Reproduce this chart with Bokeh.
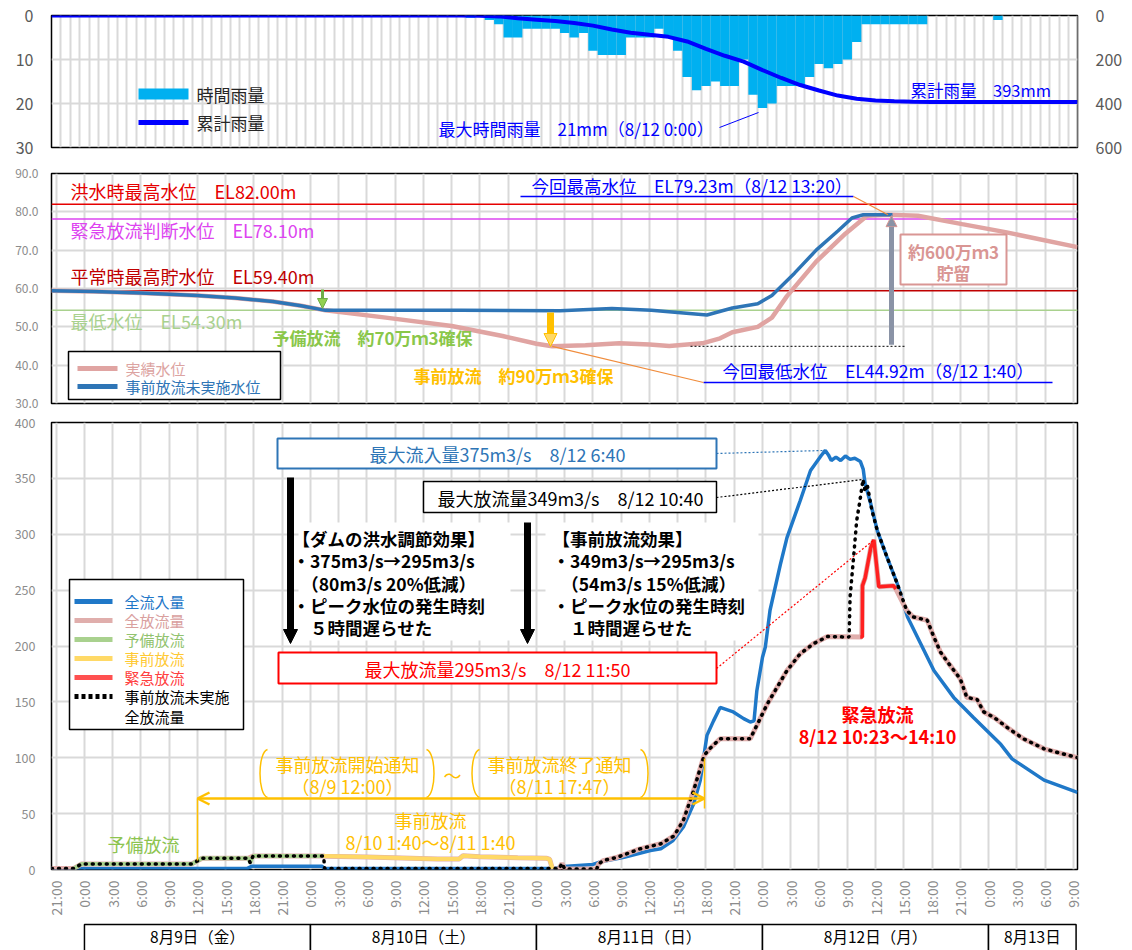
import math
from bokeh.plotting import figure
from bokeh.layouts import column
from bokeh.models import (Range1d, LinearAxis, FixedTicker, Label, Arrow, NormalHead,
                          OpenHead, NumeralTickFormatter, CustomJSTickFormatter)
from bokeh.core.properties import value
from bokeh.embed import file_html
from bokeh.resources import INLINE

FONT = "Noto Sans CJK JP"

# ---------------- data (x = hours since 2019-08-09 00:00) ----------------
# hourly rainfall [mm]
rain_hour = [41, 43, 44, 45, 46, 47, 48, 49, 50,
             51, 52, 53, 54, 55, 56, 57, 58, 59, 60,
             61, 62, 63, 64, 65, 66, 67, 68, 69, 70, 71, 72, 73, 74, 75, 76, 77, 78, 79,
             80, 81, 82, 83, 84, 85, 86, 87, 88, 89,
             97]
rain_mm = [0.5, 1, 2, 5, 5, 3, 3, 3, 3,
           4, 5, 4, 8, 9, 9, 9, 5, 5, 5,
           3, 5, 8, 14, 17, 16, 15, 16, 16, 10, 18, 21, 20, 16, 16, 16, 14, 11, 12,
           11, 10, 6, 2, 2, 2, 2, 2, 2, 2,
           1]
# cumulative rainfall [mm]
cum_hour = [-3.5, 40, 42, 44, 46, 48, 50, 52, 54, 56, 58, 60, 62, 64, 66, 68, 70, 72,
            74, 76, 78, 80, 82, 84, 86, 88, 90, 95, 105.45]
cum_mm = [0, 0, 1, 4, 13, 19, 25, 34, 46, 64, 78, 88, 97, 118, 152, 183, 210, 248,
          284, 316, 341, 364, 378, 386, 390, 392, 393, 393, 393]

# reservoir level [EL m]
level_hour = [-3.5, 1, 6, 12, 16, 20, 23, 25.6, 32, 39, 44.4, 48, 49.67, 53.2, 56.8, 60,
              62.1, 65.6, 67.5, 68.8, 71.5, 73.0, 74.6, 77.7, 80.8, 83.1, 85.33, 88.5,
              93.2, 97.8, 105.45]
level_actual = [59.4, 59.2, 58.8, 58.2, 57.5, 56.6, 55.5, 54.3, 52.4, 50.2, 47.6, 45.6,
                44.92, 45.2, 45.7, 45.4, 45.0, 45.7, 47.0, 48.6, 50.0, 52.4, 58.0, 67.0,
                74.3, 79.0, 79.23, 79.0, 76.8, 74.7, 70.8]
nopre_level_hour = [-3.5, 1, 6, 12, 16, 20, 23, 25.6, 40, 50.5, 56, 60.2, 66.1, 68.8,
                    71.5, 73.0, 75.4, 77.7, 80.0, 81.5, 82.7, 85.8]
nopre_level = [59.4, 59.2, 58.8, 58.2, 57.5, 56.6, 55.5, 54.3, 54.3, 54.2, 54.8, 54.3,
               53.1, 54.9, 56.0, 58.2, 64.0, 70.0, 75.0, 78.4, 79.23, 79.23]

ref_levels = [82.00, 78.10, 59.40, 54.30]
ref_names = ["洪水時最高水位　EL82.00m", "緊急放流判断水位　EL78.10m",
             "平常時最高貯水位　EL59.40m", "最低水位　EL54.30m"]
ref_colors = ["#e60000", "#dd44f0", "#c00000", "#a9d18e"]

# flows [m3/s]
inflow_hour = [-3.5, 17.3, 17.8, 25.2, 25.5, 49.8, 50.9, 54.0, 54.7, 57.3, 60.1, 61.2,
               62.5, 63.6, 64.7, 65.4, 66.1, 66.8, 67.5, 68.9, 70.0, 70.7, 71.1, 71.4,
               72.0, 72.3, 72.8, 73.9, 74.6, 76.0, 77.1, 78.2, 78.67, 79.0, 79.3, 79.8,
               80.3, 80.8, 81.3, 81.8, 82.4, 82.7, 82.9, 83.5, 84.2, 85.2, 86.3, 87.4,
               88.8, 90.2, 92.3, 94.4, 97.3, 98.5, 101.9, 105.45]
inflow = [1, 1, 3, 3, 1, 1, 2.7, 4.5, 6.6, 11, 17, 18.5,
          26, 38, 59, 80, 120, 133, 145, 141, 135, 132, 133, 160,
          190, 199, 232, 273, 297, 330, 357, 370, 375, 371, 366, 369,
          366, 370, 367, 368, 365, 358, 345, 327, 303, 280, 256, 226,
          202, 178, 154, 136, 112, 99, 80, 69]
outflow_hour = [-3.5, -1.1, -0.3, 11.4, 12.5, 17.4, 17.9, 25.4, 25.5, 30,
                37.5, 39.8, 40.2, 42, 46, 49.1, 49.4, 49.7, 50.4, 50.7,
                51.0, 54.4, 54.6, 55.1, 56.6, 59.0, 61.2, 62.6, 63.6, 64.7,
                65.8, 66.5, 67.5, 70.7, 71.4, 72.5, 74.6, 76.0, 77.4, 78.9,
                82.55, 82.6, 82.9, 83.5, 83.83, 84.1, 84.35, 85.9, 86.17, 87.3,
                88.0, 89.5, 90.2, 90.9, 91.8, 93.0, 93.7, 94.8, 95.5, 96.6,
                98.0, 99.7, 101.9, 105.45]
outflow = [1, 1, 5, 5, 10, 10, 12, 12, 11.9, 11.2,
           9.5, 9.5, 12.3, 11.5, 10.6, 10, 9, 0.5, 0.5, 5.5,
           0.5, 0.5, 5, 8, 11, 18.5, 23, 30, 44, 71,
           102, 109, 117, 117, 129, 148, 178, 193, 202, 208.5,
           208, 254, 261, 288, 295, 273, 253, 254, 251, 232,
           226, 223, 208, 194.5, 184, 170.6, 154, 152, 141, 136,
           127, 117, 108, 100]
spare_hour = [-1.1, -0.3, 11.4, 12.5, 17.4, 17.6, 17.9, 25.4]
spare_flow = [1, 5, 5, 10, 10, 6, 12, 12]
pre_hour = [25.4, 30, 37.5, 39.8, 40.2, 42, 46, 49.1, 49.4, 49.7]
pre_flow = [12, 11.2, 9.5, 9.5, 12.3, 11.5, 10.6, 10, 9, 0.5]
emerg_hour = [82.38, 82.6, 82.62, 82.9, 83.5, 83.83, 84.1, 84.35, 85.9, 86.17]
emerg_flow = [208, 208, 254, 261, 288, 295, 273, 253, 254, 251]
nopre_out_hour = [-3.5, -1.1, -0.3, 11.4, 12.5, 17.4, 17.6, 17.9, 25.4, 25.5,
                  49.8, 50.4, 50.7, 51.0, 54.4, 54.6, 55.1, 56.6, 59.0, 61.2,
                  62.6, 63.6, 64.7, 65.8, 66.5, 67.5, 70.7, 71.4, 72.5, 74.6,
                  76.0, 77.4, 78.9, 81.2, 81.3, 81.7, 82.0, 82.4, 82.67, 82.9,
                  83.1, 83.3, 83.6, 84.2, 85.2, 86.3, 87.3, 88.0, 89.5, 90.2,
                  90.9, 91.8, 93.0, 93.7, 94.8, 95.5, 96.6, 98.0, 99.7, 101.9,
                  105.45]
nopre_out = [1, 1, 5, 5, 10, 10, 6, 12, 12, 1,
             1, 0.5, 5.5, 0.5, 0.5, 5, 8, 11, 18.5, 23,
             30, 44, 71, 102, 109, 117, 117, 129, 148, 178,
             193, 202, 208.5, 208, 244, 282, 312, 333, 349, 338,
             345, 336, 322, 303, 280, 256, 232, 226, 223, 208,
             194.5, 184, 170.6, 154, 152, 141, 136, 127, 117, 108,
             100]

tick_hours = list(range(-3, 106, 3))
day_start = [0, 24, 48, 72, 96]
day_end = [24, 48, 72, 96, 105.3]
day_labels = ["8月9日（金）", "8月10日（土）", "8月11日（日）", "8月12日（月）", "8月13日"]

# ---------------- layout helpers (page pixel -> data) ----------------
X0, X1 = -3.5, 105.45
FL, FW = 51, 1026


def hx(px):
    return X0 + (px - FL) * (X1 - X0) / FW


def mm(py):
    return (py - 15) * 30.0 / 132


def lv(py):
    return 90 - (py - 173) * 60.0 / 230


def qf(py):
    return 400 - (py - 422) * 400.0 / 447


def dd(py):
    return 1 - (py - 916) / 32.0


def panel(fh, yr, top, bottom):
    p = figure(frame_width=FW, frame_height=fh, x_range=Range1d(X0, X1), y_range=yr,
               output_backend="svg", toolbar_location=None,
               min_border_left=FL, min_border_right=47,
               min_border_top=top, min_border_bottom=bottom)
    p.outline_line_color = "black"
    p.outline_line_width = 1.5
    p.background_fill_color = "white"
    p.border_fill_color = "white"
    return p


def style_axis(ax, size, color, standoff):
    ax.axis_line_color = None
    ax.major_tick_line_color = None
    ax.minor_tick_line_color = None
    ax.major_label_text_font = FONT
    ax.major_label_text_font_size = f"{size}px"
    ax.major_label_text_color = color
    ax.major_label_standoff = standoff


def lab(p, px, py, fy, text, color, size, bold=False, align="left"):
    p.add_layout(Label(x=hx(px), y=fy(py), text=text, text_color=color, text_font=FONT,
                       text_font_size=f"{size}px",
                       text_font_style="bold" if bold else "normal",
                       text_align=align, text_baseline="middle"))


def seg(p, xa, ya, xb, yb, color, width, dash="solid"):
    p.line([xa, xb], [ya, yb], line_color=color, line_width=width, line_dash=dash)


def box(p, l, r, t, b, line, width, fill="white"):
    p.quad(left=[l], right=[r], top=[t], bottom=[b], fill_color=fill,
           line_color=line, line_width=width)


# ================= panel 1 : rainfall =================
f1 = panel(132, Range1d(30, 0), 15, 18)
f1.xaxis.visible = False
style_axis(f1.yaxis[0], 16, "#595959", 12)
f1.yaxis[0].ticker = FixedTicker(ticks=[0, 10, 20, 30])
f1.extra_y_ranges = {"cum": Range1d(600, 0)}
rax = LinearAxis(y_range_name="cum", ticker=FixedTicker(ticks=[0, 200, 400, 600]))
style_axis(rax, 16, "#595959", 12)
f1.add_layout(rax, "right")
f1.xgrid.ticker = FixedTicker(ticks=[k + 0.5 for k in range(-4, 106)])
f1.ygrid.ticker = FixedTicker(ticks=[10, 20])
f1.grid.grid_line_color = "#d9d9d9"
f1.grid.grid_line_width = 2

f1.vbar(x=rain_hour, top=rain_mm, bottom=0, width=1.0, fill_color="#00b0f0", line_color=None)
f1.line(cum_hour, cum_mm, y_range_name="cum", line_color="#0000ff", line_width=4)

box(f1, hx(138), hx(188), mm(88), mm(99), None, 0, fill="#00b0f0")
seg(f1, hx(138), mm(122), hx(188), mm(122), "#0000ff", 5)
lab(f1, 196, 94, mm, "時間雨量", "#262626", 17)
lab(f1, 196, 122, mm, "累計雨量", "#262626", 17)
lab(f1, 438, 128, mm, "最大時間雨量　21mm（8/12 0:00）", "#0000ff", 17)
seg(f1, hx(719), mm(127), hx(758), mm(112), "#0000ff", 1)
lab(f1, 910, 89, mm, "累計雨量　393mm", "#0000ff", 16.5)

# ================= panel 2 : reservoir level =================
f2 = panel(230, Range1d(30, 90), 8, 7)
f2.xaxis.visible = False
f2.xgrid.ticker = FixedTicker(ticks=tick_hours)
f2.yaxis.ticker = FixedTicker(ticks=[30, 40, 50, 60, 70, 80, 90])
f2.yaxis.formatter = NumeralTickFormatter(format="0.0")
style_axis(f2.yaxis[0], 12, "#8c8c8c", 7)
f2.grid.grid_line_color = "#d9d9d9"
f2.grid.grid_line_width = 2

f2.segment(x0=[X0] * 4, x1=[X1] * 4, y0=ref_levels, y1=ref_levels,
           line_color=ref_colors, line_width=1.5)
for name, col, py in zip(ref_names, ref_colors, [190, 229, 275, 320]):
    lab(f2, 70, py, lv, name, col, 18)

f2.line(level_hour, level_actual, line_color="#e0a4a2", line_width=4.5)
f2.line(nopre_level_hour, nopre_level, line_color="#2e75b6", line_width=3.5)

# green arrow (予備放流)
f2.add_layout(Arrow(x_start=hx(322), y_start=lv(289), x_end=hx(322), y_end=lv(308),
                    line_color="#70ad47", line_width=3,
                    end=NormalHead(size=10, fill_color="#92d050", line_color="#70ad47")))
lab(f2, 272, 337, lv, "予備放流　約70万ｍ3確保", "#8ac74a", 17, bold=True)
# gold arrow (事前放流)
f2.add_layout(Arrow(x_start=hx(550), y_start=lv(312), x_end=hx(550), y_end=lv(346),
                    line_color="#ffc000", line_width=7,
                    end=NormalHead(size=13, fill_color="#ffd966", line_color="#ffc000")))
seg(f2, hx(550), lv(313), hx(550), lv(335), "#2e75b6", 2)
lab(f2, 413, 375, lv, "事前放流　約90万ｍ3確保", "#ffc000", 17, bold=True)

# max level note
lab(f2, 531, 185, lv, "今回最高水位　EL79.23m（8/12 13:20）", "#0000ff", 17.5)
seg(f2, hx(520), lv(196), hx(853), lv(196), "#0000ff", 1.5)
seg(f2, hx(853), lv(196), 85.33, 79.23, "#f08c3c", 1.2)
# min level note
lab(f2, 722, 370, lv, "今回最低水位　EL44.92m（8/12 1:40）", "#0000ff", 17.5)
seg(f2, hx(703), lv(382), hx(1052), lv(382), "#0000ff", 1.5)
seg(f2, 49.67, 44.92, hx(703), lv(382), "#f08c3c", 1.2)
seg(f2, hx(690), 44.92, hx(905), 44.92, "#000000", 1, dash="2 2")
# storage arrow and box
f2.add_layout(Arrow(x_start=hx(891), y_start=45.3, x_end=hx(891), y_end=79.0,
                    line_color="#8a93a6", line_width=5,
                    end=NormalHead(size=11, fill_color="#8a93a6", line_color="#d99694")))
box(f2, hx(900), hx(1006), lv(234), lv(284), "#d99694", 2)
lab(f2, 953, 251, lv, "約600万ｍ3", "#d99694", 17, bold=True, align="center")
lab(f2, 953, 272, lv, "貯留", "#d99694", 17, bold=True, align="center")

# legend
box(f2, hx(68), hx(280), lv(351), lv(399), "black", 1.5)
seg(f2, hx(77), lv(368), hx(117), lv(368), "#e0a4a2", 5)
seg(f2, hx(77), lv(386), hx(117), lv(386), "#2e75b6", 5)
lab(f2, 125, 368, lv, "実績水位", "#dca3a1", 15)
lab(f2, 125, 386, lv, "事前放流未実施水位", "#2e75b6", 15)

# ================= panel 3 : flows =================
f3 = panel(447, Range1d(0, 400), 12, 47)
f3.xaxis.ticker = FixedTicker(ticks=tick_hours)
f3.xaxis.formatter = CustomJSTickFormatter(code="const h = ((tick % 24) + 24) % 24; return h + ':00';")
f3.xaxis.major_label_orientation = math.pi / 2
style_axis(f3.xaxis[0], 14, "#8c8c8c", 5)
f3.yaxis.ticker = FixedTicker(ticks=list(range(0, 401, 50)))
style_axis(f3.yaxis[0], 12.5, "#8c8c8c", 10)
f3.grid.grid_line_color = "#d9d9d9"
f3.grid.grid_line_width = 2

# white backgrounds behind the text blocks
box(f3, hx(298), hx(510), qf(522), qf(640), None, 0)
box(f3, hx(545), hx(758), qf(522), qf(640), None, 0)

f3.line(inflow_hour, inflow, line_color="#1f78c8", line_width=3.5)
f3.line(outflow_hour, outflow, line_color="#e0aeac", line_width=5)
f3.line(spare_hour, spare_flow, line_color="#a9d18e", line_width=4)
f3.line(pre_hour, pre_flow, line_color="#ffd966", line_width=4)
f3.line(emerg_hour, emerg_flow, line_color="#ff2020", line_width=3.5)
f3.line(nopre_out_hour, nopre_out, line_color="black", line_width=3.5,
        line_dash="1 6", line_cap="round")

# peak boxes
box(f3, hx(277), hx(716), qf(438), qf(468), "#2e75b6", 2)
lab(f3, 497, 453, qf, "最大流入量375m3/s　8/12 6:40", "#2e75b6", 18, align="center")
seg(f3, hx(716), qf(453), 78.67, 375, "#2e75b6", 1.2, dash="2 2")
box(f3, hx(423), hx(716), qf(481), qf(512), "black", 1.5)
lab(f3, 570, 497, qf, "最大放流量349m3/s　8/12 10:40", "black", 18, align="center")
seg(f3, hx(716), qf(497), 82.67, 349, "black", 1.2, dash="2 2")
box(f3, hx(278), hx(716), qf(652), qf(683), "#ff0000", 2)
lab(f3, 497, 668, qf, "最大放流量295m3/s　8/12 11:50", "#ff0000", 18, align="center")
seg(f3, hx(716), qf(668), 83.83, 295, "#ff0000", 1.2, dash="2 2")

# black arrows
for ax_px, y0 in [(290, 477), (527, 522)]:
    f3.add_layout(Arrow(x_start=hx(ax_px), y_start=qf(y0), x_end=hx(ax_px), y_end=qf(643),
                        line_color="black", line_width=7,
                        end=NormalHead(size=14, fill_color="black", line_color="black")))

block1 = ["【ダムの洪水調節効果】", "・375m3/s→295m3/s", "　（80m3/s 20%低減）",
          "・ピーク水位の発生時刻", "　５時間遅らせた"]
block2 = ["【事前放流効果】", "・349m3/s→295m3/s", "　（54m3/s 15%低減）",
          "・ピーク水位の発生時刻", "　１時間遅らせた"]
for i, (t1, t2) in enumerate(zip(block1, block2)):
    py = 538 + i * 22.3
    lab(f3, 292, py, qf, t1, "black", 17.5, bold=True)
    lab(f3, 552, py, qf, t2, "black", 17.5, bold=True)

# emergency release note
lab(f3, 877, 713, qf, "緊急放流", "#ff0000", 18, bold=True, align="center")
lab(f3, 877, 735, qf, "8/12 10:23〜14:10", "#ff0000", 18, bold=True, align="center")

# pre-release notices (gold)
GOLD = "#ffc000"
for lx, rx in [(259, 434), (471, 648)]:
    f3.bezier(x0=[hx(lx + 8)], y0=[qf(749)], x1=[hx(lx + 8)], y1=[qf(797)],
              cx0=[hx(lx - 2)], cy0=[qf(752)], cx1=[hx(lx - 2)], cy1=[qf(794)],
              line_color=GOLD, line_width=1.5)
    f3.bezier(x0=[hx(rx - 8)], y0=[qf(749)], x1=[hx(rx - 8)], y1=[qf(797)],
              cx0=[hx(rx + 2)], cy0=[qf(752)], cx1=[hx(rx + 2)], cy1=[qf(794)],
              line_color=GOLD, line_width=1.5)
lab(f3, 347, 763, qf, "事前放流開始通知", GOLD, 18, align="center")
lab(f3, 347, 785, qf, "（8/9 12:00）", GOLD, 18, align="center")
lab(f3, 452, 774, qf, "〜", GOLD, 18, align="center")
lab(f3, 559, 763, qf, "事前放流終了通知", GOLD, 18, align="center")
lab(f3, 559, 785, qf, "（8/11 17:47）", GOLD, 18, align="center")
f3.add_layout(Arrow(x_start=hx(197), y_start=qf(798), x_end=hx(704), y_end=qf(798),
                    line_color=GOLD, line_width=2.5,
                    start=OpenHead(size=12, line_color=GOLD, line_width=2.5),
                    end=OpenHead(size=12, line_color=GOLD, line_width=2.5)))
seg(f3, hx(197), qf(798), hx(197), qf(860), GOLD, 1.5)
seg(f3, hx(704), qf(758), hx(704), qf(808), GOLD, 1.5)
lab(f3, 430, 819, qf, "事前放流", GOLD, 18, align="center")
lab(f3, 430, 841, qf, "8/10 1:40〜8/11 1:40", GOLD, 18, align="center")
lab(f3, 143, 843, qf, "予備放流", "#8dc450", 18, align="center")

# legend
box(f3, hx(69), hx(243), qf(579), qf(729), "black", 1.5)
leg = [("全流入量", "#1f78c8", "#1f78c8", "solid"),
       ("全放流量", "#e0aeac", "#d9a09e", "solid"),
       ("予備放流", "#a9d18e", "#92c36f", "solid"),
       ("事前放流", "#ffd966", "#ffc933", "solid"),
       ("緊急放流", "#ff5050", "#ff4040", "solid"),
       ("事前放流未実施", "black", "black", "4 3")]
for i, (name, lc, tc, dash) in enumerate(leg):
    py = 601 + i * 19
    seg(f3, hx(74), qf(py), hx(112), qf(py), lc, 5, dash=dash)
    lab(f3, 124, py, qf, name, tc, 15)
lab(f3, 124, 716, qf, "全放流量", "black", 15)

# ================= panel 4 : date row =================
f4 = figure(frame_width=FW, frame_height=32, x_range=Range1d(X0, X1), y_range=Range1d(0, 1),
            x_axis_location=None, y_axis_location=None, output_backend="svg",
            toolbar_location=None, min_border_left=FL, min_border_right=47,
            min_border_top=0, min_border_bottom=0)
f4.outline_line_color = None
f4.grid.visible = False
f4.quad(left=day_start, right=day_end, top=[dd(922)] * 5, bottom=[-1] * 5,
        fill_color="white", line_color="black", line_width=1.5)
f4.text(x=[(a + b) / 2 for a, b in zip(day_start, day_end)], y=[dd(933)] * 5, text=day_labels,
        text_font=value(FONT), text_font_size="15.5px", text_align="center",
        text_baseline="middle", text_color="black")

layout = column(f1, f2, f3, f4)
open("out.html", "w").write(file_html(layout, INLINE))
